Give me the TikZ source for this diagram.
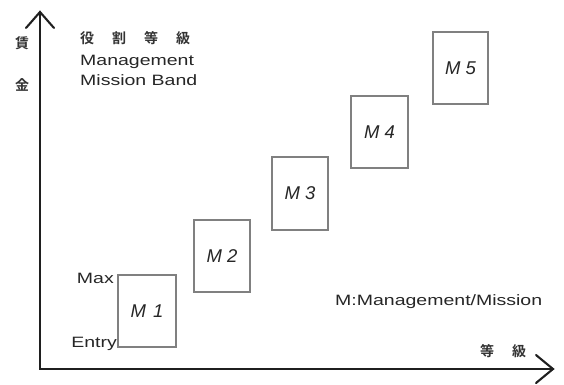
\documentclass[tikz,border=0pt]{standalone}
\usepackage{fontspec}
\setmainfont{Liberation Sans}
\newfontfamily\widefont{Liberation Sans}[FakeStretch=1.3]
\newfontfamily\jpfont{Noto Sans CJK JP Bold}
\begin{document}
\begin{tikzpicture}[x=1pt,y=-1pt,
  axis/.style={draw=black!88,line width=2.1pt,line cap=round,line join=miter},
  band/.style={draw=black!50,line width=1.1pt,fill=white,inner sep=0pt,
     font=\fontsize{18.5}{20}\selectfont\itshape,text=black!85},
  lbl/.style={inner sep=0pt,font=\widefont\fontsize{15}{18}\selectfont,text=black!85},
  jp/.style={inner sep=0pt,font=\jpfont\fontsize{14}{16}\selectfont,text=black!80}]
\useasboundingbox (0,0) rectangle (564,384);
% axes
\coordinate (o) at (40,369);
\coordinate (ytip) at (40,12);
\coordinate (xtip) at (553,369);
\coordinate (yl) at (26,28);
\coordinate (yr) at (54,28);
\coordinate (xu) at (536,355);
\coordinate (xd) at (536,383);
\draw[axis] (ytip) -- (o) -- (xtip);
\draw[axis] (yl) -- (ytip) -- (yr);
\draw[axis] (xu) -- (xtip) -- (xd);
% bands
\node[band,minimum width=58pt,minimum height=72pt] (m1) at (147,311) {M\hspace{2pt} 1};
\node[band,minimum width=56pt,minimum height=72pt] (m2) at (222,256) {M 2};
\node[band,minimum width=56pt,minimum height=73pt] (m3) at (300,193.5) {M 3};
\node[band,minimum width=57pt,minimum height=72pt] (m4) at (379.5,132) {M 4};
\node[band,minimum width=55pt,minimum height=72pt] (m5) at (460.5,68) {M 5};
% labels
\node[lbl,anchor=base east] (max) at (114,283) {Max};
\node[lbl,anchor=base east] (entry) at (117,347) {Entry};
\node[jp] (chin) at (22,43) {賃};
\node[jp] (kin) at (22,85) {金};
\node[jp,anchor=west] (yaku) at (80,38) {役\hspace{18pt}割\hspace{18pt}等\hspace{18pt}級};
\node[lbl,anchor=base west] (mgmt) at (80,65) {Management};
\node[lbl,anchor=base west] (mband) at (80,85) {Mission Band};
\node[lbl,anchor=base west] (legend) at (335,305) {M:Management/Mission};
\node[jp,anchor=west] (tokyu) at (480,351) {等\hspace{18pt}級};
\end{tikzpicture}
\end{document}
